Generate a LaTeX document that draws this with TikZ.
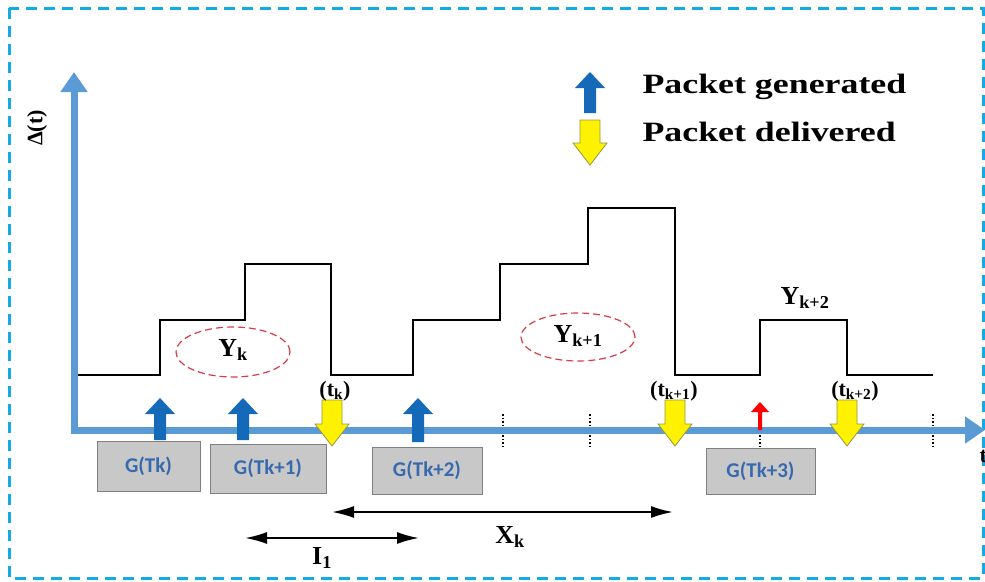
\documentclass[tikz,border=0pt]{standalone}
\usepackage{fontspec}
\setmainfont{Liberation Serif}
\newfontfamily\boxfont{Carlito}
\usetikzlibrary{arrows.meta}

\definecolor{frame}{RGB}{20,170,230}
\definecolor{axisblue}{RGB}{91,155,213}
\definecolor{genblue}{RGB}{20,105,185}
\definecolor{boxgray}{RGB}{200,200,200}
\definecolor{boxtext}{RGB}{55,105,175}
\definecolor{dashred}{RGB}{215,60,70}
\definecolor{yelline}{RGB}{150,150,70}

\tikzset{
  gbox/.style={draw=gray, fill=boxgray, line width=0.8pt, inner sep=0pt, font=\boxfont\fontsize{21}{23}\selectfont\bfseries, text=boxtext},
  tlabel/.style={font=\fontsize{22}{24}\selectfont\bfseries},
  ylabel/.style={font=\fontsize{26}{28}\selectfont\bfseries},
  leglabel/.style={font=\fontsize{28}{30}\selectfont\bfseries, anchor=west, xscale=1.28, transform shape},
  span/.style={{Latex[length=22pt,width=12pt]}-{Latex[length=22pt,width=12pt]}, line width=2pt},
  yk/.style={draw=dashred, line width=1.2pt, dash pattern=on 7pt off 4pt}
}

% generated (up) and delivered (down) block arrows
\newcommand{\genarrow}[3]{% x, tip y, base y
  \fill[genblue] (#1-6,#3) -- (#1-6,#2+16) -- (#1-15,#2+16) -- (#1,#2) -- (#1+15,#2+16) -- (#1+6,#2+16) -- (#1+6,#3) -- cycle;}
\newcommand{\delarrow}[3]{% x, top y, tip y
  \filldraw[fill=yellow, draw=yelline, line width=0.8pt] (#1-10,#2) -- (#1-10,#3-22) -- (#1-17,#3-22) -- (#1,#3) -- (#1+17,#3-22) -- (#1+10,#3-22) -- (#1+10,#2) -- cycle;}

\begin{document}
\begin{tikzpicture}[x=1pt,y=-1pt]

\useasboundingbox (0,0) rectangle (985,581);
\draw[frame, line width=3pt, dash pattern=on 11pt off 7pt] (9,8) rectangle (983,578);

% dotted marks on the time axis
\foreach \x in {503,590,760,933}
  \draw[dotted, line width=1.5pt] (\x,414) -- (\x,446);

% axes
\draw[axisblue, line width=7pt, -{Triangle[length=20pt,width=26pt]}] (74,430) -- (74,72);
\draw[axisblue, line width=7pt, -{Triangle[length=20pt,width=26pt]}] (71,430) -- (985,430);
\node[tlabel, rotate=90] (delta) at (37,128) {Δ(t)};
\node[tlabel, anchor=west] (tt) at (976,456) {t};

% age curve
\draw[line width=2.5pt] (78,375) -- (160,375) -- (160,320) -- (245,320) -- (245,264) -- (331,264) -- (331,375)
  -- (413,375) -- (413,320) -- (500,320) -- (500,264) -- (588,264) -- (588,208) -- (675,208) -- (675,375)
  -- (760,375) -- (760,320) -- (847,320) -- (847,375) -- (933,375);

\draw[yk] (233,352) ellipse (57pt and 25pt);
\draw[yk] (578,337) ellipse (57pt and 24pt);
\node[ylabel] (yk0) at (233,350) {Y\textsubscript{k}};
\node[ylabel] (yk1) at (578,336) {Y\textsubscript{k+1}};
\node[ylabel] (yk2) at (805,298) {Y\textsubscript{k+2}};

% packets
\genarrow{160}{398}{440}
\genarrow{243}{398}{440}
\genarrow{418}{398}{442}
\fill[red] (758,430) -- (758,412) -- (751,412) -- (760,402) -- (769,412) -- (762,412) -- (762,430) -- cycle;
\delarrow{332}{400}{446}
\delarrow{675}{400}{446}
\delarrow{847}{400}{446}

\node[tlabel] (tk0) at (335,391) {(t\textsubscript{k})};
\node[tlabel] (tk1) at (674,391) {(t\textsubscript{k+1})};
\node[tlabel] (tk2) at (855,391) {(t\textsubscript{k+2})};

\node[gbox, minimum width=103pt, minimum height=50pt] (g0) at (148.5,466) {G(Tk)};
\node[gbox, minimum width=116pt, minimum height=49pt] (g1) at (268,468.5) {G(Tk+1)};
\node[gbox, minimum width=110pt, minimum height=47pt] (g2) at (427,470.5) {G(Tk+2)};
\node[gbox, minimum width=109pt, minimum height=46pt] (g3) at (760.5,471) {G(Tk+3)};

% intervals
\coordinate (xa) at (332,512);
\coordinate (xb) at (673,512);
\coordinate (ia) at (245,538);
\coordinate (ib) at (419,538);
\draw[span] (xa) -- (xb);
\draw[span] (ia) -- (ib);
\node[ylabel] (xk) at (510,537) {X\textsubscript{k}};
\node[ylabel] (i1) at (322,558) {I\textsubscript{1}};

% legend
\genarrow{590}{72}{113}
\delarrow{590}{120}{165}
\node[leglabel] (lgen) at (638,87) {Packet generated};
\node[leglabel] (ldel) at (638,132) {Packet delivered};

\end{tikzpicture}
\end{document}
